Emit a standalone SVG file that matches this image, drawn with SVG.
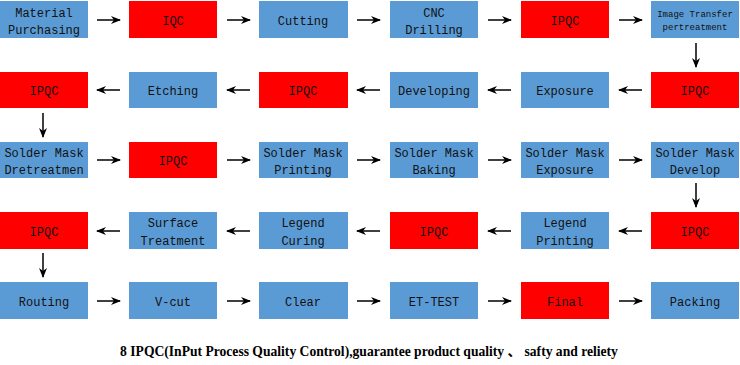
<svg xmlns="http://www.w3.org/2000/svg" width="740" height="365" viewBox="0 0 740 365">
<defs>
<style>
.b{fill:#5B9BD5}
.r{fill:#FF0000}
.t{font-family:"Liberation Mono","DejaVu Sans Mono",monospace;font-size:12px;fill:#111;text-anchor:middle;dominant-baseline:central}
.s{font-size:9px}
.c line{stroke:#000;stroke-width:1.5;marker-end:url(#a)}
.cap{font-family:"Liberation Serif","Noto Sans CJK SC",serif;font-weight:bold;font-size:13.6px;fill:#000;text-anchor:middle}
</style>
<marker id="a" markerUnits="userSpaceOnUse" markerWidth="10" markerHeight="8" refX="9" refY="4" orient="auto">
<path d="M0,0 L10,4 L0,8 L3,4 z" fill="#000"/>
</marker>
</defs>
<rect width="740" height="365" fill="#fff"/>

<g id="n1"><rect class="b" x="0" y="1" width="88" height="37"/><text class="t" x="44" y="13.5">Material</text><text class="t" x="44" y="30.5">Purchasing</text></g>
<g id="n2"><rect class="r" x="129" y="1" width="88" height="37"/><text class="t" x="173" y="21.5">IQC</text></g>
<g id="n3"><rect class="b" x="259" y="1" width="89" height="37"/><text class="t" x="303" y="21.5">Cutting</text></g>
<g id="n4"><rect class="b" x="390" y="1" width="88" height="37"/><text class="t" x="434" y="13.5">CNC</text><text class="t" x="434" y="30.5">Drilling</text></g>
<g id="n5"><rect class="r" x="521" y="1" width="88" height="37"/><text class="t" x="565" y="21.5">IPQC</text></g>
<g id="n6"><rect class="b" x="651" y="1" width="88" height="37"/><text class="t s" x="695" y="15">Image Transfer</text><text class="t s" x="695" y="28">pertreatment</text></g>

<g id="n7"><rect class="r" x="651" y="72" width="88" height="36"/><text class="t" x="695" y="91.5">IPQC</text></g>
<g id="n8"><rect class="b" x="521" y="72" width="88" height="36"/><text class="t" x="565" y="91.5">Exposure</text></g>
<g id="n9"><rect class="b" x="390" y="72" width="88" height="36"/><text class="t" x="434" y="91.5">Developing</text></g>
<g id="n10"><rect class="r" x="259" y="72" width="89" height="36"/><text class="t" x="303" y="91.5">IPQC</text></g>
<g id="n11"><rect class="b" x="129" y="72" width="88" height="36"/><text class="t" x="173" y="91.5">Etching</text></g>
<g id="n12"><rect class="r" x="0" y="72" width="88" height="36"/><text class="t" x="44" y="91.5">IPQC</text></g>

<g id="n13"><rect class="b" x="0" y="142" width="88" height="36"/><text class="t" x="44" y="153.5">Solder Mask</text><text class="t" x="44" y="170.5">Dretreatmen</text></g>
<g id="n14"><rect class="r" x="129" y="142" width="88" height="36"/><text class="t" x="173" y="161.5">IPQC</text></g>
<g id="n15"><rect class="b" x="259" y="142" width="89" height="36"/><text class="t" x="303" y="153.5">Solder Mask</text><text class="t" x="303" y="170.5">Printing</text></g>
<g id="n16"><rect class="b" x="390" y="142" width="88" height="36"/><text class="t" x="434" y="153.5">Solder Mask</text><text class="t" x="434" y="170.5">Baking</text></g>
<g id="n17"><rect class="b" x="521" y="142" width="88" height="36"/><text class="t" x="565" y="153.5">Solder Mask</text><text class="t" x="565" y="170.5">Exposure</text></g>
<g id="n18"><rect class="b" x="651" y="142" width="88" height="36"/><text class="t" x="695" y="153.5">Solder Mask</text><text class="t" x="695" y="170.5">Develop</text></g>

<g id="n19"><rect class="r" x="651" y="212" width="88" height="37"/><text class="t" x="695" y="232.5">IPQC</text></g>
<g id="n20"><rect class="b" x="521" y="212" width="88" height="37"/><text class="t" x="565" y="223.5">Legend</text><text class="t" x="565" y="241.5">Printing</text></g>
<g id="n21"><rect class="r" x="390" y="212" width="88" height="37"/><text class="t" x="434" y="232.5">IPQC</text></g>
<g id="n22"><rect class="b" x="259" y="212" width="89" height="37"/><text class="t" x="303" y="223.5">Legend</text><text class="t" x="303" y="241.5">Curing</text></g>
<g id="n23"><rect class="b" x="129" y="212" width="88" height="37"/><text class="t" x="173" y="223.5">Surface</text><text class="t" x="173" y="241.5">Treatment</text></g>
<g id="n24"><rect class="r" x="0" y="212" width="88" height="37"/><text class="t" x="44" y="232.5">IPQC</text></g>

<g id="n25"><rect class="b" x="0" y="282" width="88" height="37"/><text class="t" x="44" y="302.5">Routing</text></g>
<g id="n26"><rect class="b" x="129" y="282" width="88" height="37"/><text class="t" x="173" y="302.5">V-cut</text></g>
<g id="n27"><rect class="b" x="259" y="282" width="89" height="37"/><text class="t" x="303" y="302.5">Clear</text></g>
<g id="n28"><rect class="b" x="390" y="282" width="88" height="37"/><text class="t" x="434" y="302.5">ET-TEST</text></g>
<g id="n29"><rect class="r" x="521" y="282" width="88" height="37"/><text class="t" x="565" y="302.5">Final</text></g>
<g id="n30"><rect class="b" x="651" y="282" width="88" height="37"/><text class="t" x="695" y="302.5">Packing</text></g>

<g id="connectors" class="c">
<line x1="97" y1="20" x2="120" y2="20"/>
<line x1="227" y1="20" x2="250" y2="20"/>
<line x1="357" y1="20" x2="380" y2="20"/>
<line x1="488" y1="20" x2="511" y2="20"/>
<line x1="619" y1="20" x2="642" y2="20"/>
<line x1="696" y1="43" x2="696" y2="67"/>
<line x1="642" y1="90" x2="619" y2="90"/>
<line x1="511" y1="90" x2="488" y2="90"/>
<line x1="380" y1="90" x2="357" y2="90"/>
<line x1="250" y1="90" x2="227" y2="90"/>
<line x1="120" y1="90" x2="97" y2="90"/>
<line x1="43" y1="113" x2="43" y2="137"/>
<line x1="97" y1="160" x2="120" y2="160"/>
<line x1="227" y1="160" x2="250" y2="160"/>
<line x1="357" y1="160" x2="380" y2="160"/>
<line x1="488" y1="160" x2="511" y2="160"/>
<line x1="619" y1="160" x2="642" y2="160"/>
<line x1="696" y1="183" x2="696" y2="207"/>
<line x1="642" y1="231" x2="619" y2="231"/>
<line x1="511" y1="231" x2="488" y2="231"/>
<line x1="380" y1="231" x2="357" y2="231"/>
<line x1="250" y1="231" x2="227" y2="231"/>
<line x1="120" y1="231" x2="97" y2="231"/>
<line x1="43" y1="253" x2="43" y2="277"/>
<line x1="97" y1="301" x2="120" y2="301"/>
<line x1="227" y1="301" x2="250" y2="301"/>
<line x1="357" y1="301" x2="380" y2="301"/>
<line x1="488" y1="301" x2="511" y2="301"/>
<line x1="619" y1="301" x2="642" y2="301"/>
</g>

<text class="cap" x="369" y="356">8 IPQC(InPut Process Quality Control),guarantee product quality 、 safty and reliety</text>
</svg>
